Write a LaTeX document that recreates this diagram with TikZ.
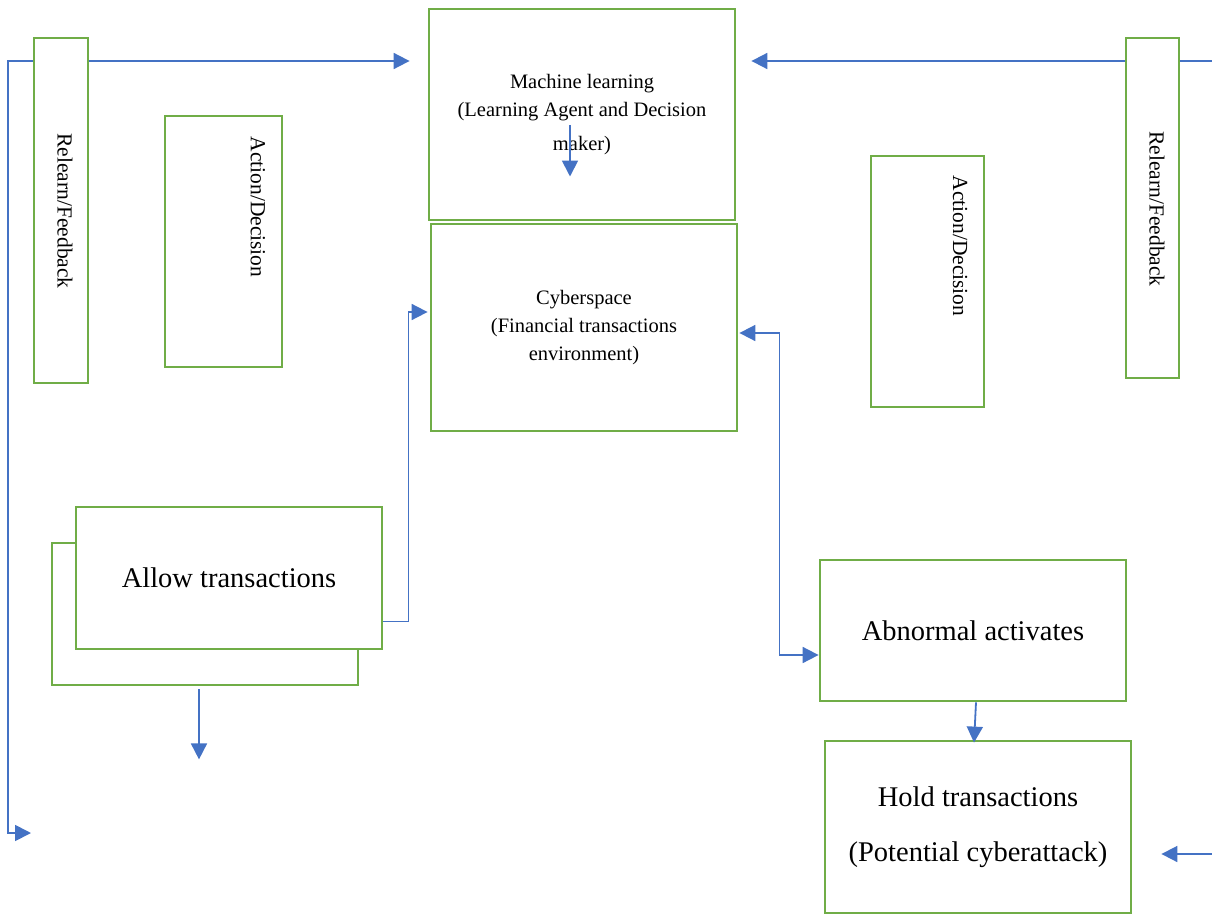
\documentclass[tikz,border=0pt]{standalone}
\usepackage{fontspec}
\setmainfont{Liberation Serif}
\usetikzlibrary{arrows.meta}
\definecolor{boxgreen}{HTML}{70AD47}
\definecolor{lineblue}{HTML}{4472C4}
\tikzset{
  gbox/.style={draw=boxgreen, line width=2.8pt, fill=white, rectangle, inner sep=0pt},
  vbox/.style={draw=boxgreen, line width=2pt, fill=white, rectangle, inner sep=0pt},
  conn/.style={draw=lineblue, line width=1.8pt, -{Triangle[length=16pt,width=16pt]}},
  conntwo/.style={draw=lineblue, line width=1.8pt, {Triangle[length=16pt,width=16pt]}-{Triangle[length=16pt,width=16pt]}},
  smalltxt/.style={font=\fontsize{20.5}{28}\selectfont, align=center},
  bigtxt/.style={font=\fontsize{28.5}{55}\selectfont, align=center},
  vtxt/.style={font=\fontsize{21.5}{24}\selectfont, rotate=-90, inner sep=0pt}
}
\begin{document}
\begin{tikzpicture}[x=1pt,y=-1pt]
\useasboundingbox (0,0) rectangle (1212,915);
% main boxes
\node[gbox, minimum width=306pt, minimum height=211pt, smalltxt] (ml) at (582,114.5)
  {Machine learning\\(Learning Agent and Decision\\[6pt]maker)};
\node[gbox, minimum width=306pt, minimum height=207pt, smalltxt] (cyber) at (584,327.5)
  {Cyberspace\\(Financial transactions\\environment)};
\node[gbox, minimum width=306pt, minimum height=142pt] (allowb) at (205,614) {};
\node[gbox, minimum width=306pt, minimum height=142pt, bigtxt] (allowf) at (229,578) {Allow transactions};
\node[gbox, minimum width=306pt, minimum height=141pt, bigtxt] (abn) at (973,630.5) {Abnormal activates};
\node[gbox, minimum width=306pt, minimum height=172pt, bigtxt] (hold) at (978,827)
  {Hold transactions\\(Potential cyberattack)};
% action boxes
\node[vbox, minimum width=117pt, minimum height=251pt] (actl) at (223.5,241.5) {};
\node[vtxt] (actltxt) at (258,207) {Action/Decision};
\node[vbox, minimum width=113pt, minimum height=251pt] (actr) at (927.5,281.5) {};
\node[vtxt] (actrtxt) at (960,246) {Action/Decision};
% free ends
\coordinate (lbot) at (31,833);
\coordinate (rtop) at (1212,61);
\coordinate (rbot) at (1212,854);
% connectors
\draw[conntwo] (lbot) -- (8,833) -- (8,61) -- ([xshift=-18pt,yshift=53.5pt]ml.west);
\draw[conn] (rtop) -- ([xshift=15pt,yshift=53.5pt]ml.east);
\draw[conn] (rbot) -- ([xshift=29pt,yshift=-27pt]hold.east);
\draw[conn] ([xshift=-12pt,yshift=-10.5pt]ml.center) -- ([xshift=-12pt,yshift=-62pt]ml.center);
\draw[conn] ([yshift=29pt]allowf.south east) -- ++(25,0) |- ([xshift=-2pt,yshift=15.5pt]cyber.west);
\draw[conntwo] ([xshift=1pt,yshift=-5.5pt]cyber.east) -- ++(40,0) |- ([yshift=-24.5pt]abn.west);
\draw[conn] ([xshift=-6pt,yshift=-3pt]allowb.south) -- ++(0,70);
\draw[conn] ([xshift=3pt]abn.south) -- ([xshift=-4pt,yshift=-3pt]hold.north);
% relearn boxes (cover the feedback lines)
\node[vbox, minimum width=54pt, minimum height=345pt] (rll) at (61,210.5) {};
\node[vtxt] (rlltxt) at (65,211) {Relearn/Feedback};
\node[vbox, minimum width=53pt, minimum height=340pt] (rlr) at (1152.5,208) {};
\node[vtxt] (rlrtxt) at (1157,209) {Relearn/Feedback};
\end{tikzpicture}
\end{document}
